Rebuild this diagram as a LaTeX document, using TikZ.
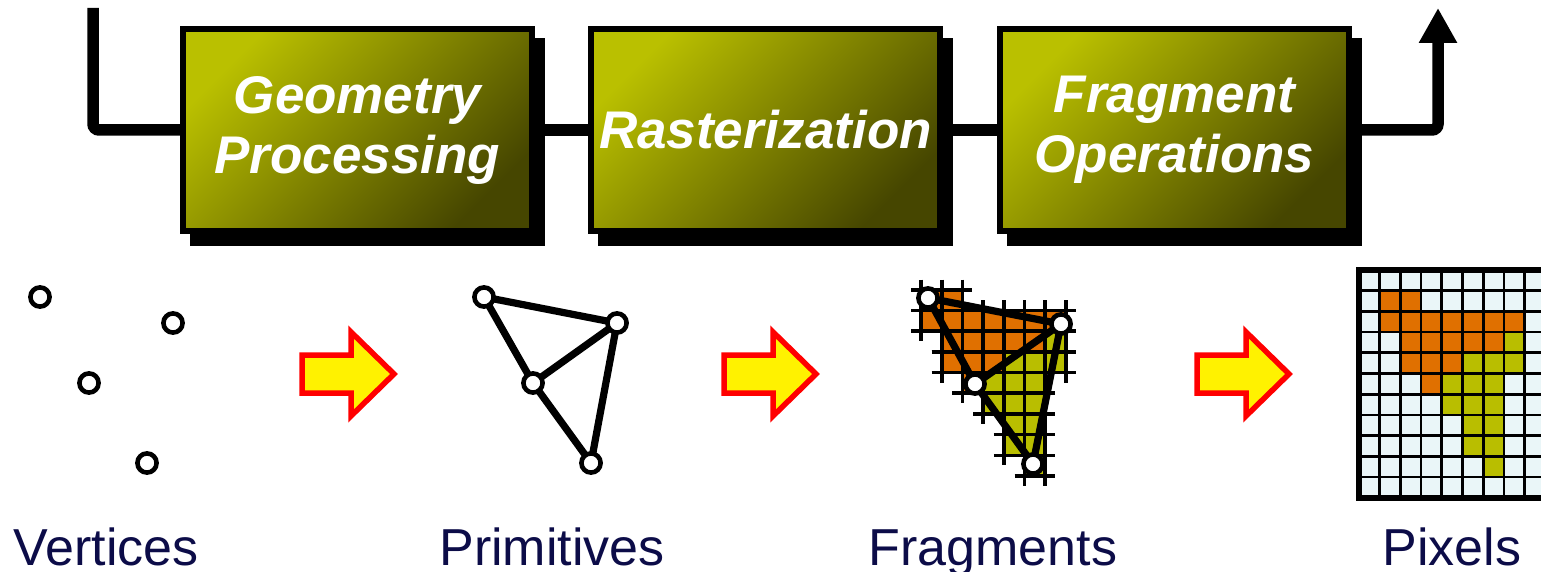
\documentclass[tikz,border=0pt]{standalone}
\usepackage{fontspec}
\setmainfont{Liberation Sans}
\usetikzlibrary{arrows.meta,shadows}

\definecolor{olivehi}{RGB}{186,192,0}
\definecolor{olivelo}{RGB}{70,70,0}
\definecolor{fragorange}{RGB}{224,112,0}
\definecolor{fragolive}{RGB}{185,190,0}
\definecolor{cellbg}{RGB}{234,246,248}
\definecolor{labelnavy}{RGB}{12,12,72}

\pgfdeclarelayer{cells}
\pgfdeclarelayer{wires}
\pgfsetlayers{cells,wires,main}

\tikzset{
  stage/.style={draw=black, line width=3pt, top color=olivehi, bottom color=olivelo,
    shading angle=45, minimum width=174.5pt, minimum height=101pt, inner sep=0pt,
    align=center, text=white, font=\fontsize{26.5}{30}\selectfont\bfseries\itshape,
    general shadow={fill=black, draw=black, line width=3pt, shadow xshift=5pt, shadow yshift=-6pt}},
  pipe/.style={line width=5.75pt, rounded corners=3pt},
  vtx/.style={circle, draw=black, fill=white, line width=2.3pt, minimum size=9.6pt, inner sep=0pt},
  wire/.style={line width=3.6pt, line cap=round},
  xline/.style={line width=1.8pt},
  gline/.style={line width=1.35pt},
  caption/.style={anchor=base, inner sep=0pt, text=labelnavy, font=\fontsize{26}{30}\selectfont},
  blockarrow/.pic={
    \filldraw[draw=red, fill=yellow, line width=2.75pt]
      (0,0) -- (-43,-42) -- (-43,-19) -- (-92,-19) -- (-92,19) -- (-43,19) -- (-43,42) -- cycle;
  }
}

\def\cp{20.7}
\def\fragX{900.3}
\def\fragY{269}
\def\pixX{1359}
\def\pixY{270}

\begin{document}
\begin{tikzpicture}[x=0.5pt,y=-0.5pt]
\useasboundingbox (0,0) rectangle (1541,572);

% pipeline stages
\node[stage] (geo)  at (357.5,130) {Geometry\\Processing};
\node[stage] (ras)  at (765.5,130) {Rasterization};
\node[stage] (frag) at (1174.5,130) {Fragment\\Operations};

\coordinate (in)  at (93,8);
\coordinate (out) at (1438,8);

\begin{pgfonlayer}{wires}
  \draw[pipe] (in) |- (geo.west);
  \draw[pipe] (geo.east) -- (ras.west);
  \draw[pipe] (ras.east) -- (frag.west);
  \draw[pipe, -{Triangle[width=18pt,length=17.5pt]}] (frag.east) -| (out);
\end{pgfonlayer}

% vertices
\node[vtx] (v1) at (40,297) {};
\node[vtx] (v2) at (173,323) {};
\node[vtx] (v3) at (89,383) {};
\node[vtx] (v4) at (147,463) {};

% primitives
\node[vtx] (p1) at (484,297) {};
\node[vtx] (p2) at (617,323) {};
\node[vtx] (p3) at (533,383) {};
\node[vtx] (p4) at (591,463) {};

% fragments
\node[vtx] (f1) at (928,298) {};
\node[vtx] (f2) at (1061,324) {};
\node[vtx] (f3) at (975,384) {};
\node[vtx] (f4) at (1033,464) {};

\begin{pgfonlayer}{wires}
  \draw[wire] (p1.center) -- (p2.center);
  \draw[wire] (p1.center) -- (p3.center);
  \draw[wire] (p3.center) -- (p2.center);
  \draw[wire] (p2.center) -- (p4.center);
  \draw[wire] (p3.center) -- (p4.center);
  \draw[wire] (f1.center) -- (f2.center);
  \draw[wire] (f1.center) -- (f3.center);
  \draw[wire] (f3.center) -- (f2.center);
  \draw[wire] (f2.center) -- (f4.center);
  \draw[wire] (f3.center) -- (f4.center);
\end{pgfonlayer}

% covered cells, fragment crosses and the pixel grid
\begin{pgfonlayer}{cells}
\begin{scope}
  \clip (0,0) rectangle (1541,572);
  \fill[cellbg] (\pixX,\pixY) rectangle ({\pixX+10*\cp},{\pixY+11*\cp});
  \foreach \r/\a/\b in {1/1/2,2/1/7,3/2/6,4/2/4,5/3/3} {
    \fill[fragorange] ({\pixX+\a*\cp},{\pixY+\r*\cp}) rectangle ({\pixX+(\b+1)*\cp},{\pixY+(\r+1)*\cp});
    \fill[fragorange] ({\fragX+\a*\cp},{\fragY+\r*\cp}) rectangle ({\fragX+(\b+1)*\cp},{\fragY+(\r+1)*\cp});
  }
  \foreach \r/\a/\b in {3/7/7,4/5/7,5/4/6,6/4/6,7/5/6,8/5/6,9/6/6} {
    \fill[fragolive] ({\pixX+\a*\cp},{\pixY+\r*\cp}) rectangle ({\pixX+(\b+1)*\cp},{\pixY+(\r+1)*\cp});
    \fill[fragolive] ({\fragX+\a*\cp},{\fragY+\r*\cp}) rectangle ({\fragX+(\b+1)*\cp},{\fragY+(\r+1)*\cp});
  }
  \foreach \r/\a/\b in {1/1/2,2/1/7,3/2/7,4/2/7,5/3/6,6/4/6,7/5/6,8/5/6,9/6/6} {
    \pgfmathtruncatemacro\bb{\b+1}
    \draw[xline] ({\fragX+\a*\cp-10},{\fragY+\r*\cp}) -- ({\fragX+\bb*\cp+10},{\fragY+\r*\cp});
    \draw[xline] ({\fragX+\a*\cp-10},{\fragY+(\r+1)*\cp}) -- ({\fragX+\bb*\cp+10},{\fragY+(\r+1)*\cp});
    \foreach \c in {\a,...,\bb}
      \draw[xline] ({\fragX+\c*\cp},{\fragY+\r*\cp-10}) -- ({\fragX+\c*\cp},{\fragY+(\r+1)*\cp+10});
  }
  \foreach \k in {1,...,9}
    \draw[gline] ({\pixX+\k*\cp},\pixY) -- ({\pixX+\k*\cp},{\pixY+11*\cp});
  \foreach \k in {1,...,10}
    \draw[gline] (\pixX,{\pixY+\k*\cp}) -- ({\pixX+10*\cp},{\pixY+\k*\cp});
  \draw[line width=3pt] ({\pixX+12*\cp},\pixY) -- (\pixX,\pixY) -- (\pixX,{\pixY+11*\cp}) -- ({\pixX+12*\cp},{\pixY+11*\cp});
\end{scope}
\end{pgfonlayer}

% block arrows between the stages
\pic at (394,374) {blockarrow};
\pic at (816,374) {blockarrow};
\pic at (1289,374) {blockarrow};

% captions
\node[caption] (capv) at (106,565) {Vertices};
\node[caption] (capp) at (552,565) {Primitives};
\node[caption] (capf) at (993,565) {Fragments};
\node[caption] (capx) at (1452,565) {Pixels};
\end{tikzpicture}
\end{document}
